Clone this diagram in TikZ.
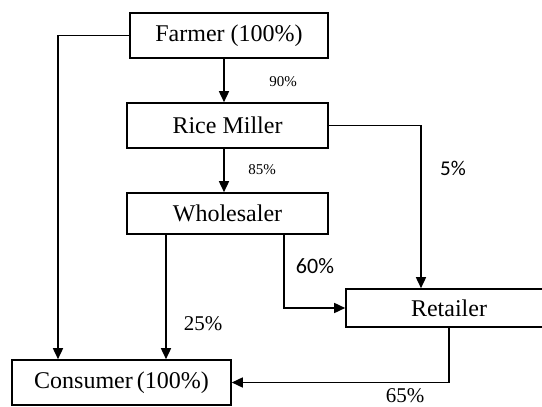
\documentclass[tikz,border=0pt]{standalone}
\usepackage{fontspec}
\setmainfont{Liberation Serif}
\newfontfamily\calfont{Carlito}
\usetikzlibrary{arrows.meta}
\begin{document}
\begin{tikzpicture}[x=0.5pt,y=-0.5pt,
        box/.style={draw,line width=0.8pt,inner sep=0pt,font=\fontsize{12}{14}\selectfont},
        arr/.style={line width=0.8pt,-{Triangle[length=5.5pt,width=5pt]}},
        small/.style={inner sep=0pt,font=\fontsize{7.5}{9}\selectfont},
        pct/.style={inner sep=0pt,font=\fontsize{10.5}{12}\selectfont},
        cal/.style={inner sep=0pt,font=\calfont\fontsize{11}{13}\selectfont}]
        \useasboundingbox (0,0) rectangle (542,407);
        \clip (0,0) rectangle (542,407);
        \node[box,minimum width=99pt,minimum height=22.5pt] (farmer) at (229,35.5) {Farmer (100\%)};
        \node[box,minimum width=100.5pt,minimum height=22.5pt] (miller) at (227.5,125.5) {Rice Miller};
        \node[box,minimum width=100.5pt,minimum height=20.5pt] (wholesaler) at (227.5,213.5) {Wholesaler};
        \node[box,minimum width=103pt,minimum height=19pt] (retailer) at (449,308) {Retailer};
        \node[box,minimum width=109.5pt,minimum height=22.5pt] (consumer) at (121.5,382.5) {Consumer\,(100\%)};
        \coordinate (fm) at (224,0);
        \coordinate (fc) at (58,0);
        \coordinate (mr) at (421,0);
        \coordinate (wc) at (166,0);
        \coordinate (wr) at (284,0);
        \draw[arr] (farmer.south -| fm) -- (miller.north -| fm);
        \draw[arr] (miller.south -| fm) -- (wholesaler.north -| fm);
        \draw[arr] (farmer.west) -| (consumer.north -| fc);
        \draw[arr] (miller.east) -| (retailer.north -| mr);
        \draw[arr] (wholesaler.south -| wc) -- (consumer.north -| wc);
        \draw[arr] (wholesaler.south -| wr) |- (retailer.west);
        \draw[arr] (retailer.south) |- (consumer.east);
        \node[small] (l90) at (283,82) {90\%};
        \node[small] (l85) at (262,170) {85\%};
        \node[cal,font=\calfont\fontsize{10.5}{12}\selectfont] (l5) at (453,168) {5\%};
        \node[cal] (l60) at (315,266) {60\%};
        \node[pct] (l25) at (203,324) {25\%};
        \node[pct] (l65) at (405,396) {65\%};
        \end{tikzpicture}
\end{document}
